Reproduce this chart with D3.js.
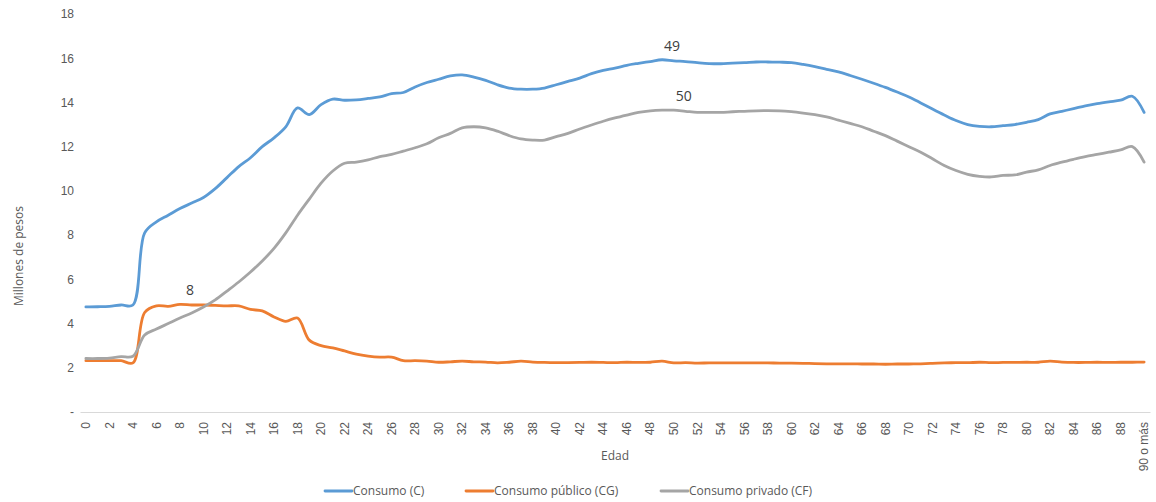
<!DOCTYPE html>
<html>
<head>
<meta charset="utf-8">
<script src="https://cdn.jsdelivr.net/npm/d3@7"></script>
<style>
  body { margin: 0; background: #fff; }
  svg { font-family: "Open Sans", "Noto Sans", sans-serif; }
  .tick text { fill: #595959; font-size: 12px; }
  .label { fill: #595959; font-size: 12px; }
  .dlabel { fill: #404040; font-size: 14px; }
</style>
</head>
<body>
<svg width="1156" height="502"></svg>
<script>
// Edades 0..89 y "90 o más"
const ages = d3.range(90).map(String).concat(["90 o más"]);

const consumo = [
  4.75, 4.76, 4.78, 4.84, 4.84, 8.1, 8.6, 8.9, 9.2, 9.45,
  9.7, 10.1, 10.6, 11.1, 11.5, 12.0, 12.4, 12.9, 13.75, 13.45,
  13.9, 14.15, 14.1, 14.12, 14.18, 14.25, 14.4, 14.45, 14.7, 14.9,
  15.05, 15.2, 15.25, 15.15, 15.0, 14.8, 14.65, 14.6, 14.6, 14.65,
  14.8, 14.95, 15.1, 15.3, 15.45, 15.55, 15.68, 15.77, 15.85, 15.93,
  15.88, 15.85, 15.8, 15.76, 15.75, 15.78, 15.8, 15.83, 15.83, 15.82,
  15.8, 15.72, 15.62, 15.5, 15.38, 15.22, 15.05, 14.87, 14.68, 14.47,
  14.25, 13.98, 13.7, 13.43, 13.18, 13.0, 12.92, 12.9, 12.95, 13.0,
  13.1, 13.22, 13.48, 13.6, 13.72, 13.85, 13.95, 14.03, 14.1, 14.28,
  13.55
];

const consumoPublico = [
  2.32, 2.32, 2.32, 2.32, 2.22, 4.5, 4.8, 4.78, 4.87, 4.84,
  4.84, 4.82, 4.8, 4.8, 4.64, 4.57, 4.3, 4.1, 4.25, 3.25,
  3.0, 2.9, 2.76, 2.62, 2.53, 2.48, 2.48, 2.32, 2.32, 2.3,
  2.25, 2.27, 2.3, 2.27, 2.26, 2.22, 2.25, 2.3, 2.26, 2.24,
  2.23, 2.23, 2.24, 2.25, 2.24, 2.23, 2.25, 2.24, 2.25, 2.3,
  2.22, 2.23, 2.21, 2.22, 2.22, 2.22, 2.22, 2.22, 2.22, 2.21,
  2.21, 2.2, 2.19, 2.18, 2.18, 2.18, 2.17, 2.17, 2.16, 2.17,
  2.17, 2.18, 2.2, 2.22, 2.23, 2.23, 2.25, 2.23, 2.24, 2.24,
  2.25, 2.25, 2.3, 2.26, 2.24, 2.24, 2.25, 2.24, 2.25, 2.25,
  2.26
];

const consumoPrivado = [
  2.42, 2.42, 2.44, 2.5, 2.52, 3.48, 3.75, 4.0, 4.25, 4.48,
  4.75, 5.07, 5.47, 5.88, 6.33, 6.83, 7.4, 8.1, 8.9, 9.63,
  10.35, 10.9, 11.25, 11.3, 11.4, 11.55, 11.65, 11.8, 11.95, 12.13,
  12.4, 12.6, 12.85, 12.9, 12.85, 12.7, 12.5, 12.35, 12.3, 12.3,
  12.45, 12.6, 12.8, 12.98, 13.15, 13.3, 13.43, 13.55, 13.62, 13.65,
  13.65, 13.6, 13.55, 13.55, 13.55, 13.58, 13.6, 13.62, 13.63, 13.62,
  13.58, 13.52, 13.45, 13.35, 13.2, 13.05, 12.9, 12.7, 12.5, 12.25,
  12.0, 11.75, 11.45, 11.15, 10.92, 10.75, 10.66, 10.63, 10.7, 10.72,
  10.85, 10.95, 11.15, 11.3, 11.43, 11.55, 11.65, 11.75, 11.85, 12.0,
  11.3
];

const yTicks = [0, 2, 4, 6, 8, 10, 12, 14, 16, 18];

const series = [
  { name: "Consumo (C)", values: consumo, color: "#5B9BD5", label: "49" },
  { name: "Consumo público (CG)", values: consumoPublico, color: "#ED7D31", label: "8" },
  { name: "Consumo privado (CF)", values: consumoPrivado, color: "#A5A5A5", label: "50" }
];

const svg = d3.select("svg");
const mLeft = 80, mRight = 1150, mTop = 14, mBottom = 412;

const x = d3.scaleBand().domain(ages).range([mLeft, mRight]);
const y = d3.scaleLinear().domain([0, 18]).range([mBottom, mTop]);

// eje y (sin línea)
const yAxis = svg.append("g")
  .attr("transform", `translate(${mLeft - 6},0)`)
  .call(d3.axisLeft(y).tickValues(yTicks).tickSize(0).tickPadding(0)
    .tickFormat(d => d === 0 ? "-" : d));
yAxis.select(".domain").remove();

// eje x
const xAxis = svg.append("g")
  .attr("transform", `translate(0,${mBottom})`)
  .call(d3.axisBottom(x)
    .tickValues(ages.filter((d, i) => i % 2 === 0 || i === 90))
    .tickSize(0));
xAxis.select(".domain").attr("stroke", "#d9d9d9");
xAxis.selectAll("text")
  .attr("transform", "rotate(-90)")
  .attr("text-anchor", "end")
  .attr("x", -10)
  .attr("y", 0)
  .attr("dy", "0.35em");

const line = d3.line()
  .x((d, i) => x(ages[i]) + x.bandwidth() / 2)
  .y(d => y(d))
  .curve(d3.curveCatmullRom.alpha(0.5));

series.forEach(s => {
  svg.append("path")
    .datum(s.values)
    .attr("fill", "none")
    .attr("stroke", s.color)
    .attr("stroke-width", 2.8)
    .attr("stroke-linejoin", "round")
    .attr("stroke-linecap", "round")
    .attr("d", line);

  const i = ages.indexOf(s.label);
  svg.append("text")
    .attr("class", "dlabel")
    .attr("x", x(ages[i]) + x.bandwidth() / 2 + 10)
    .attr("y", y(s.values[i]) - 9)
    .attr("text-anchor", "middle")
    .text(s.label);
});

// títulos de ejes
svg.append("text")
  .attr("class", "label")
  .attr("transform", "translate(23,256) rotate(-90)")
  .attr("text-anchor", "middle")
  .text("Millones de pesos");

svg.append("text")
  .attr("class", "label")
  .attr("x", 615)
  .attr("y", 460)
  .attr("text-anchor", "middle")
  .text("Edad");

// leyenda
const legendX = [325, 466, 661];
series.forEach((s, i) => {
  const g = svg.append("g").attr("transform", `translate(${legendX[i]},491)`);
  g.append("line")
    .attr("x1", 0).attr("x2", 27)
    .attr("stroke", s.color).attr("stroke-width", 2.8)
    .attr("stroke-linecap", "round");
  g.append("text")
    .attr("class", "label")
    .attr("x", 28)
    .attr("dy", "0.35em")
    .text(s.name);
});
</script>
</body>
</html>
